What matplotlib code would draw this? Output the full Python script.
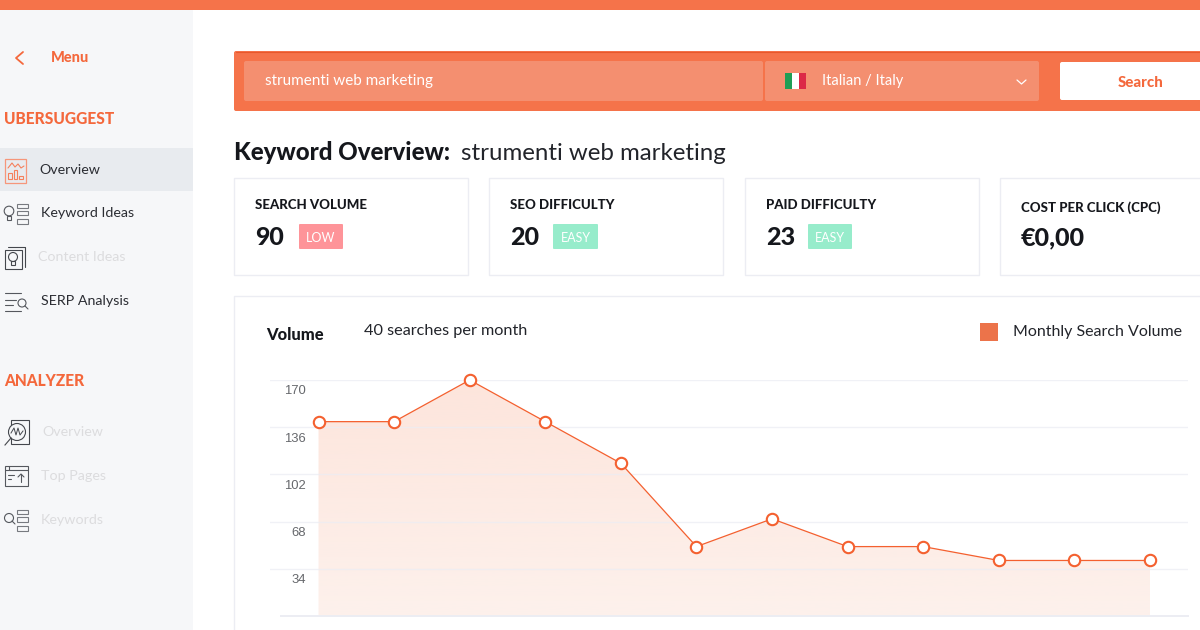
import numpy as np
import matplotlib
matplotlib.use('Agg')
import matplotlib.pyplot as plt
from matplotlib.colors import LinearSegmentedColormap
from matplotlib.patches import Rectangle, FancyBboxPatch, Circle
from matplotlib.transforms import ScaledTranslation

# chart data
months = list(range(12))
volume = [140, 140, 170, 140, 110, 50, 70, 50, 50, 40, 40, 40]
y_ticks = [34, 68, 102, 136, 170]
legend_label = 'Monthly Search Volume'

# cards
card_titles = ['SEARCH VOLUME', 'SEO DIFFICULTY', 'PAID DIFFICULTY', 'COST PER CLICK (CPC)']
card_values = ['90', '20', '23', '€0,00']
card_badges = ['LOW', 'EASY', 'EASY', None]

# sidebar
ubersuggest_items = ['Overview', 'Keyword Ideas', 'Content Ideas', 'SERP Analysis']
analyzer_items = ['Overview', 'Top Pages', 'Keywords']

ORANGE = '#f5734a'
LINE = '#f4602f'
BORDER = '#ecedf3'
DARK = '#15171c'
FONT = 'Lato'
PX = 0.72  # px to pt at dpi 100

fig = plt.figure(figsize=(12, 6.3), dpi=100, facecolor='white')

# page layer in pixel coords
ui = fig.add_axes([0, 0, 1, 1])
ui.set_xlim(0, 1200)
ui.set_ylim(630, 0)
ui.axis('off')


def rect(x0, y0, x1, y1, fc='none', ec='none', lw=1.0, **kw):
    p = Rectangle((x0, y0), x1 - x0, y1 - y0, facecolor=fc, edgecolor=ec, linewidth=lw, **kw)
    ui.add_patch(p)
    return p


def rrect(x0, y0, x1, y1, fc, r=2):
    p = FancyBboxPatch((x0 + r, y0 + r), x1 - x0 - 2 * r, y1 - y0 - 2 * r,
                       boxstyle='round,pad=%d,rounding_size=%d' % (r, r),
                       facecolor=fc, edgecolor='none')
    ui.add_patch(p)
    return p


def put(x, y, s, size, color=DARK, weight='normal', ha='left', family=FONT):
    # +1 because the text sits a bit high with va center
    return ui.text(x, y + 1, s, fontsize=size * PX, color=color, fontweight=weight, ha=ha,
                   va='center', family=family)


def stroke(xs, ys, color='#55585e', lw=0.8):
    ui.plot(xs, ys, color=color, linewidth=lw, solid_capstyle='round')


# top bar and sidebar
rect(0, 0, 1200, 10, fc=ORANGE)
rect(0, 10, 193, 630, fc='#f6f7f9')
rect(0, 148, 193, 191, fc='#e8ebef')

stroke([23, 16, 23], [52, 58, 64], color='#f4683c', lw=1.3)
put(51, 57, 'Menu', 14.5, color='#f4683c', weight='black')
put(4, 118, 'UBERSUGGEST', 15.5, color='#f4683c', weight='black')
put(4, 380, 'ANALYZER', 15.5, color='#f4683c', weight='black')

side_x = [39, 41, 38, 41]
side_y = [169, 212, 256, 300]
side_c = ['#2b2d33', '#2b2d33', '#dcdcde', '#2b2d33']
for x, y, c, s in zip(side_x, side_y, side_c, ubersuggest_items):
    put(x, y, s, 14.2, color=c)

for x, y, s in zip([42, 41, 41], [431, 475, 519], analyzer_items):
    put(x, y, s, 14.2, color='#dcdcde')

# sidebar icons
rect(4.5, 158.5, 26, 182.5, ec='#f6967a', lw=0.9)
stroke([8, 12, 15, 18, 21, 24], [168, 163, 167, 164, 168, 166], color='#f5805c')
for bx, bt in zip([8, 13.5, 19], [173, 170, 176]):
    rect(bx, bt, bx + 3.5, 179, ec='#f5805c', lw=0.8)

ui.add_patch(Circle((9, 211), 4.8, fc='none', ec='#55585e', lw=0.8))
rect(7, 215.5, 11, 220, ec='#55585e', lw=0.8)
for ry in [203.5, 210.5, 219]:
    rect(17, ry, 28, ry + 4.5, ec='#777a80', lw=0.8)

rect(4.5, 250, 22, 269, ec='#44474d', lw=0.8)
stroke([8, 25, 25], [246.5, 246.5, 267], color='#44474d')
ui.add_patch(Circle((13, 257), 4.5, fc='none', ec='#44474d', lw=0.8))
rect(11, 261, 15, 265, ec='#44474d', lw=0.8)

for ly, lx in zip([293, 300, 305, 311], [21, 16, 13, 21]):
    stroke([5, lx], [ly, ly])
ui.add_patch(Circle((22, 303), 4, fc='none', ec='#55585e', lw=0.8))
stroke([25, 28], [306, 309])

rect(11, 420, 29, 444, ec='#44474d', lw=0.8)
ui.add_patch(Circle((17, 432), 8.5, fc='#f6f7f9', ec='#44474d', lw=0.8, zorder=3))
ui.plot([11, 14, 16, 18, 20, 23], [433, 428, 435, 428, 435, 431], color='#44474d', lw=0.7, zorder=4)
ui.plot([5, 11], [445, 438], color='#44474d', lw=0.8, zorder=4)

rect(4.5, 466, 28, 486, ec='#55585e', lw=0.8)
stroke([4.5, 28], [470, 470])
stroke([9, 9], [466, 470])
stroke([8, 14], [475, 475])
stroke([8, 11], [479, 479])
stroke([21, 21], [482, 474])
stroke([18, 21, 24], [477, 474, 477])

ui.add_patch(Circle((9, 518), 4.5, fc='none', ec='#55585e', lw=0.8))
stroke([12, 15], [521, 524])
for ry in [509.5, 517, 526]:
    rect(17, ry, 28, ry + 4.5, ec='#777a80', lw=0.8)

# search bar
rrect(234, 51, 1210, 111, ORANGE)
stroke([236, 1200], [51.5, 51.5], color='#e8582c', lw=0.8)
rrect(244, 61, 763, 101, '#f48f70')
rrect(765, 61, 1039, 101, '#f48f70')
rrect(1060, 62, 1210, 100, 'white')
put(265, 80, 'strumenti web marketing', 15.2, color='white')
rect(785, 73, 792, 89, fc='#1f9e55')
rect(792, 73, 799, 89, fc='white')
rect(799, 73, 806, 89, fc='#dc2947')
put(822, 80, 'Italian / Italy', 14.6, color='white')
stroke([1017, 1021.5, 1026], [80, 84, 80], color='white', lw=0.9)
put(1141, 82, 'Search', 15, color='#f4683c', weight='black', ha='center')

# heading
put(234, 152, 'Keyword Overview:', 24, weight='black')
put(461, 152, 'strumenti web marketing', 24, color='#22242a')

# cards
card_x0 = [234, 489, 745, 1000]
card_x1 = [468, 723, 979, 1210]
badge_x = [(299, 343), (553, 598), (808, 852), None]
badge_c = ['#fe9499', '#97eccb', '#97eccb', None]
for i, title in enumerate(card_titles):
    x0 = card_x0[i]
    rect(x0, 177.5, card_x1[i], 275, fc='white', ec=BORDER, lw=1.0)
    ty = 207 if i == 3 else 204
    put(x0 + 21, ty, title, 13.3, weight='black')
    put(x0 + 21, 236.5, card_values[i], 25, weight='black')
    if card_badges[i]:
        bx0, bx1 = badge_x[i]
        rrect(bx0, 224, bx1, 249, badge_c[i], r=1)
        put((bx0 + bx1) / 2, 236.5, card_badges[i], 12.5, color='white', ha='center')

# chart panel
rect(234, 296, 1210, 640, fc='white', ec=BORDER, lw=1.0)
put(266, 334, 'Volume', 16.5, weight='black')
put(364, 330, '40 searches per month', 16.2, color='#22242a')
rect(980, 323, 998, 341, fc='#ec734a')
put(1013, 331, legend_label, 16, color='#22242a')

# line chart, gridlines 270-1188 px, 0 at y=616 and 170 at y=380
ax = fig.add_axes([270 / 1200, (630 - 616) / 630, 918 / 1200, 236 / 630])
ax.patch.set_alpha(0)
xlim = (-48.5 / 75.55, 11 + 38 / 75.55)

grad = LinearSegmentedColormap.from_list('fill', ['#fdf1ec', '#fde5dc'])
poly = ax.fill_between(months, volume, 0, color='none')
img = ax.imshow(np.linspace(1, 0, 256).reshape(-1, 1), extent=(xlim[0], xlim[1], 0, 170),
                aspect='auto', cmap=grad, zorder=1)
img.set_clip_path(poly.get_paths()[0], transform=ax.transData)

ax.plot(months, volume, color=LINE, linewidth=0.9, marker='o', markersize=8.2,
        markerfacecolor='white', markeredgecolor=LINE, markeredgewidth=1.5,
        clip_on=False, zorder=3)

ax.set_xlim(*xlim)
ax.set_ylim(0, 170)
ax.set_xticks([])
ax.set_yticks(y_ticks)
ax.set_yticklabels([str(v) for v in y_ticks], fontsize=13 * PX, color='#66686c', family='Liberation Sans')
ax.tick_params(axis='y', length=0, pad=-36 * PX)
shift = ScaledTranslation(0, -10 / 100, fig.dpi_scale_trans)
for lab in ax.get_yticklabels():
    lab.set_ha('right')
    lab.set_transform(lab.get_transform() + shift)
ax.set_axisbelow(False)
ax.grid(axis='y', color=BORDER, linewidth=1.0, alpha=0.75)
ax.axhline(0, xmin=11 / 918, color=BORDER, linewidth=1.4, clip_on=False)
for sp in ax.spines.values():
    sp.set_visible(False)

fig.savefig('out.png', dpi=100)
